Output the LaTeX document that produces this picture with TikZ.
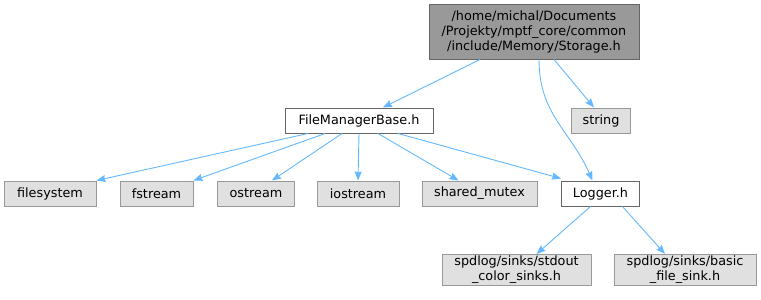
\documentclass[tikz,border=0pt]{standalone}
\usepackage{fontspec}
\setmainfont{DejaVu Sans}
\usetikzlibrary{arrows.meta}
\definecolor{depblue}{HTML}{63B8FF}
\definecolor{rootfill}{HTML}{999999}
\definecolor{rootline}{HTML}{666666}
\definecolor{sysfill}{HTML}{E0E0E0}
\definecolor{sysline}{HTML}{999999}
\tikzset{
  hdr/.style={
    draw,
    rectangle,
    minimum height=25pt,
    inner sep=0pt,
    line width=1pt,
    font=\fontsize{12.8}{15}\selectfont,
  },
  rootfile/.style={hdr, fill=rootfill, draw=rootline, align=center},
  localfile/.style={hdr, fill=white, draw=rootline},
  sysfile/.style={hdr, fill=sysfill, draw=sysline},
  dep/.style={draw=depblue, line width=0.9pt, -{Stealth[length=9pt,width=7pt,inset=1pt]}},
}

\begin{document}
\begin{tikzpicture}[x=1pt, y=-1pt]
  \useasboundingbox (0,0) rectangle (761,300);
  \node[rootfile, minimum width=210pt, minimum height=55pt] (storage) at (534,31.5)
    {/home/michal/Documents\\/Projekty/mptf\_core/common\\/include/Memory/Storage.h};
  \node[localfile, minimum width=148pt] (fmb) at (359,120.5) {FileManagerBase.h};
  \node[sysfile, minimum width=59pt] (string) at (601,120.5) {string};
  \node[localfile, minimum width=78pt] (logger) at (600.5,193.5) {Logger.h};
  % system headers pulled in by the file manager
  \foreach \name/\txt/\x/\w in {filesystem/filesystem/50/92, fstream/fstream/156.5/73,
      ostream/ostream/256/77, iostream/iostream/358/82, smutex/shared\_mutex/479.5/115} {
    \node[sysfile, minimum width=\w pt] (\name) at (\x,193.5) {\txt};
  }
  \node[sysfile, minimum width=149pt, minimum height=31pt, align=center] (stdout) at (516.5,270)
    {spdlog/sinks/stdout\\\_color\_sinks.h};
  \node[sysfile, minimum width=142pt, minimum height=31pt, align=center] (basic) at (685,270)
    {spdlog/sinks/basic\\\_file\_sink.h};

  \draw[dep] ([xshift=-54pt]storage.south) -- ([xshift=24pt]fmb.north);
  \draw[dep] ([xshift=20pt]storage.south) -- ([xshift=-7pt]string.north);
  \draw[dep] ([xshift=5pt]storage.south) .. controls +(0,55) and +(-22,-50) .. ([xshift=-8pt]logger.north);
  \draw[dep] ([xshift=-51pt]fmb.south) -- (filesystem.north east);
  \draw[dep] ([xshift=-34pt]fmb.south) -- (fstream.north east);
  \draw[dep] ([xshift=-17pt]fmb.south) -- ([xshift=16pt]ostream.north);
  \draw[dep] (fmb.south) -- (iostream.north);
  \draw[dep] ([xshift=19pt]fmb.south) -- ([xshift=-21pt]smutex.north);
  \draw[dep] ([xshift=39pt]fmb.south) -- ([yshift=2pt]logger.north west);
  \draw[dep] ([xshift=-10pt]logger.south) -- ([xshift=20pt]stdout.north);
  \draw[dep] ([xshift=22pt]logger.south) -- ([xshift=-20pt]basic.north);
\end{tikzpicture}
\end{document}
